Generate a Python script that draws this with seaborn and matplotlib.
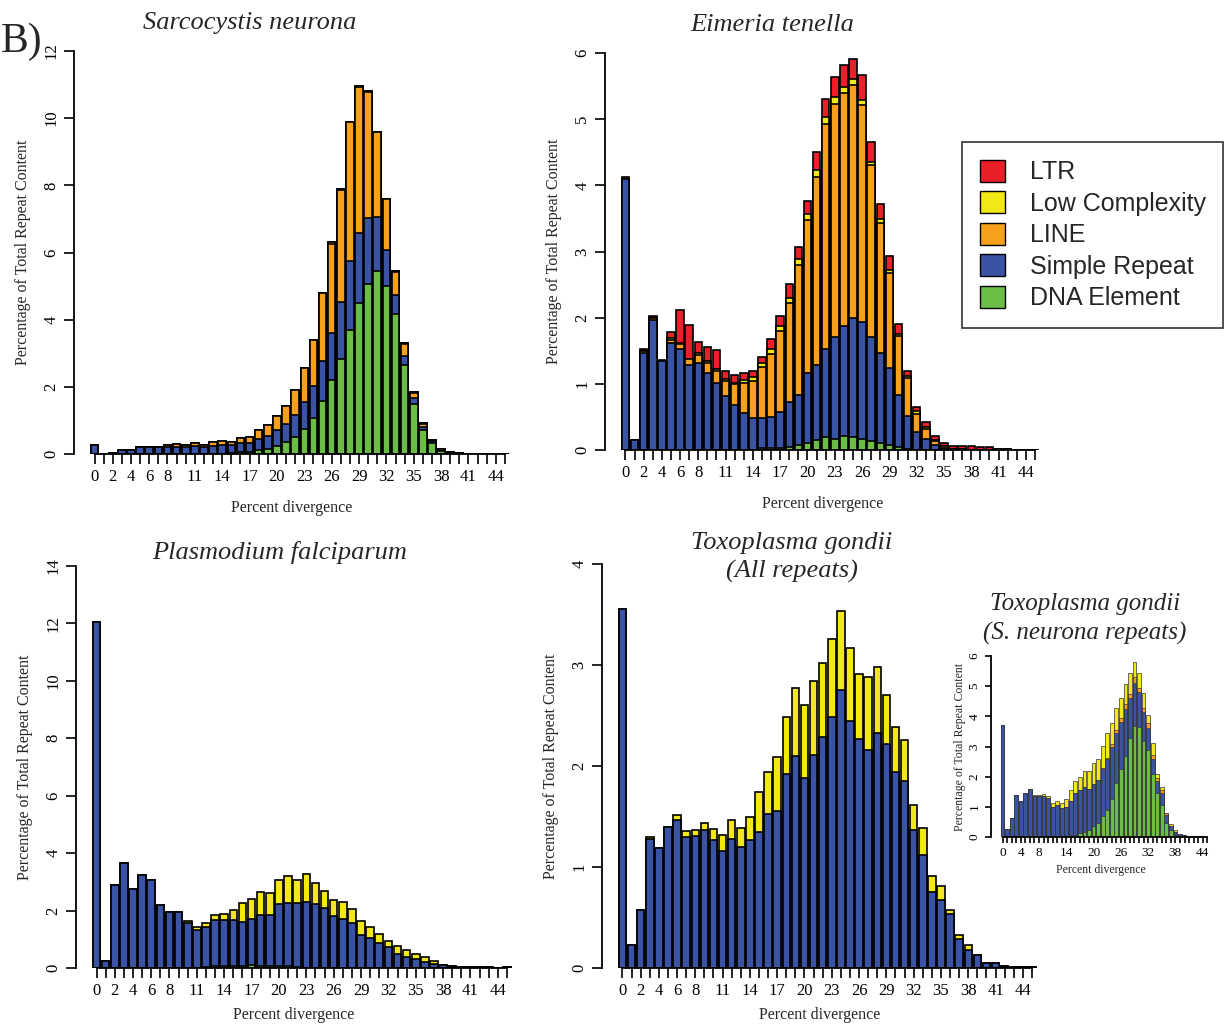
import matplotlib
matplotlib.use("Agg")
import matplotlib.pyplot as plt
from matplotlib.patches import Patch
import seaborn as sns
import numpy as np

# divergence bins 0..45 (%)
bins = list(range(46))

# colours
c_ltr = "#E8202A"
c_lowc = "#F2E817"
c_line = "#F7A01C"
c_simple = "#3A53A4"
c_dna = "#6BBD45"

# --- Sarcocystis neurona ---
sn_dna = [0, 0, 0, 0, 0, 0, 0, 0, 0, 0, 0, 0, 0, 0, 0.01, 0.02, 0.05, 0.07, 0.13, 0.16,
          0.25, 0.36, 0.51, 0.75, 1.07, 1.59, 2.19, 2.83, 3.70, 4.49, 5.05, 5.46, 5.00, 4.16, 2.64, 1.50,
          0.72, 0.33, 0.08, 0.03, 0.01, 0, 0, 0, 0, 0]
sn_simple = [0.26, 0.01, 0.03, 0.12, 0.13, 0.21, 0.22, 0.20, 0.21, 0.22, 0.22, 0.24, 0.20, 0.24, 0.26, 0.24,
             0.27, 0.27, 0.32, 0.39, 0.45, 0.53, 0.66, 0.80, 0.94, 1.19, 1.41, 1.71, 2.06, 2.08, 1.97, 1.59,
             1.06, 0.58, 0.28, 0.17, 0.08, 0.05, 0.04, 0.02, 0.01, 0.01, 0.01, 0.005, 0.005, 0.005]
sn_line = [0, 0, 0, 0, 0, 0, 0, 0, 0.06, 0.08, 0.04, 0.08, 0.07, 0.11, 0.11, 0.10, 0.16, 0.16, 0.25, 0.32,
           0.42, 0.54, 0.73, 1.00, 1.39, 2.02, 2.65, 3.31, 4.12, 4.35, 3.76, 2.53, 1.52, 0.69, 0.36, 0.16,
           0.10, 0.04, 0.02, 0, 0, 0, 0, 0, 0, 0]
sn_lowc = [0, 0, 0, 0, 0, 0, 0, 0, 0, 0, 0, 0, 0, 0, 0, 0, 0, 0, 0, 0, 0, 0, 0, 0, 0, 0, 0.05, 0.05,
           0.02, 0.03, 0.02, 0.02, 0.02, 0.02, 0.02, 0.02, 0.02, 0, 0, 0, 0, 0, 0, 0, 0, 0]
sn_ltr = [0] * 46

# --- Eimeria tenella ---
et_dna = [0, 0, 0, 0, 0, 0, 0, 0, 0, 0, 0, 0, 0, 0, 0, 0.03, 0.03, 0.03, 0.05, 0.07, 0.11, 0.15, 0.19,
          0.17, 0.21, 0.19, 0.16, 0.13, 0.10, 0.07, 0.04, 0.02, 0, 0, 0, 0, 0, 0, 0, 0, 0, 0, 0, 0, 0, 0]
et_simple = [4.10, 0.15, 1.47, 1.96, 1.35, 1.62, 1.53, 1.29, 1.32, 1.17, 1.02, 0.81, 0.68, 0.56, 0.48,
             0.45, 0.47, 0.54, 0.67, 0.76, 1.06, 1.13, 1.33, 1.54, 1.66, 1.80, 1.78, 1.58, 1.36, 1.17,
             0.79, 0.50, 0.27, 0.17, 0.08, 0.03, 0.02, 0.01, 0, 0, 0, 0.01, 0.01, 0.005, 0.005, 0.005]
et_line = [0, 0, 0.02, 0.03, 0, 0.05, 0.07, 0.08, 0.12, 0.15, 0.18, 0.24, 0.32, 0.46, 0.57, 0.77, 0.95,
           1.23, 1.50, 1.97, 2.31, 2.85, 3.41, 3.52, 3.52, 3.53, 3.27, 2.59, 1.97, 1.43, 0.89, 0.57, 0.28,
           0.15, 0.05, 0.03, 0, 0, 0, 0, 0, 0, 0, 0, 0, 0]
et_lowc = [0, 0, 0, 0.01, 0, 0.02, 0.02, 0, 0.02, 0.02, 0.03, 0.03, 0.02, 0.04, 0.05, 0.07, 0.08, 0.08,
           0.08, 0.08, 0.09, 0.10, 0.10, 0.10, 0.09, 0.09, 0.08, 0.06, 0.06, 0.05, 0.04, 0.03, 0.04, 0.03,
           0.02, 0, 0, 0, 0, 0, 0, 0, 0, 0, 0, 0]
et_ltr = [0.02, 0, 0.04, 0.03, 0.01, 0.10, 0.49, 0.52, 0.17, 0.22, 0.28, 0.11, 0.12, 0.10, 0.10, 0.09,
          0.15, 0.15, 0.21, 0.19, 0.19, 0.28, 0.27, 0.30, 0.34, 0.30, 0.37, 0.30, 0.23, 0.21, 0.14, 0.08,
          0.06, 0.08, 0.06, 0.05, 0.04, 0.05, 0.06, 0.05, 0.04, 0.01, 0, 0, 0, 0]

# --- Plasmodium falciparum ---
pf_dna = [0, 0, 0, 0, 0, 0, 0, 0, 0, 0, 0, 0, 0.05, 0.06, 0.06, 0.06, 0.07, 0.10, 0.07, 0.07, 0.06, 0.06,
          0.04, 0, 0, 0, 0, 0, 0, 0, 0, 0, 0, 0, 0, 0, 0, 0, 0, 0, 0, 0, 0, 0, 0, 0]
pf_simple = [12.05, 0.25, 2.88, 3.65, 2.75, 3.25, 3.07, 2.20, 1.95, 1.95, 1.55, 1.33, 1.37, 1.61, 1.61,
             1.61, 1.53, 1.62, 1.76, 1.77, 2.16, 2.21, 2.23, 2.30, 2.23, 2.08, 1.80, 1.70, 1.57, 1.15,
             1.05, 0.87, 0.73, 0.50, 0.40, 0.30, 0.20, 0.14, 0.09, 0.07, 0.05, 0.04, 0.02, 0.02, 0.01, 0.02]
pf_lowc = [0, 0, 0, 0, 0, 0, 0, 0, 0, 0, 0.07, 0.09, 0.13, 0.17, 0.20, 0.36, 0.67, 0.68, 0.80, 0.76, 0.83,
           0.93, 0.81, 0.97, 0.72, 0.60, 0.58, 0.60, 0.48, 0.48, 0.38, 0.30, 0.22, 0.27, 0.23, 0.20, 0.17,
           0.10, 0.01, 0, 0, 0, 0, 0, 0, 0]

# --- Toxoplasma gondii (all repeats) ---
tg_simple = [3.55, 0.23, 0.57, 1.28, 1.19, 1.40, 1.47, 1.30, 1.31, 1.37, 1.27, 1.16, 1.28, 1.20, 1.27,
             1.35, 1.52, 1.55, 1.92, 2.10, 1.88, 2.11, 2.29, 2.49, 2.75, 2.45, 2.27, 2.16, 2.33, 2.22,
             1.94, 1.85, 1.37, 1.12, 0.75, 0.67, 0.53, 0.29, 0.18, 0.13, 0.05, 0.05, 0.015, 0.01, 0.005, 0.005]
tg_lowc = [0, 0, 0, 0.02, 0, 0, 0.04, 0.06, 0.06, 0.07, 0.11, 0.16, 0.19, 0.19, 0.23, 0.39, 0.42, 0.54,
           0.57, 0.67, 0.72, 0.73, 0.73, 0.77, 0.78, 0.72, 0.64, 0.72, 0.65, 0.48, 0.45, 0.41, 0.24, 0.27,
           0.16, 0.14, 0.04, 0.04, 0.05, 0, 0, 0, 0, 0, 0, 0]

# --- Toxoplasma gondii (S. neurona repeats), inset ---
ts_dna = [0, 0, 0, 0, 0, 0, 0, 0, 0, 0, 0, 0, 0, 0.02, 0.03, 0.05, 0.08, 0.12, 0.15, 0.22, 0.35, 0.45,
          0.70, 0.90, 1.25, 1.80, 2.25, 2.70, 3.28, 3.67, 3.65, 3.17, 2.90, 2.10, 1.45, 1.05, 0.45, 0.22,
          0.08, 0.04, 0.02, 0.01, 0, 0, 0, 0]
ts_simple = [3.70, 0.27, 0.62, 1.39, 1.20, 1.47, 1.58, 1.35, 1.35, 1.35, 1.28, 1.00, 1.05, 0.93, 0.97,
             1.15, 1.39, 1.43, 1.50, 1.38, 1.40, 1.45, 1.55, 1.70, 1.75, 1.65, 1.55, 1.55, 1.32, 1.43,
             1.15, 0.98, 0.70, 0.50, 0.40, 0.40, 0.27, 0.13, 0.10, 0.06, 0.04, 0.03, 0.02, 0.02, 0.02, 0.01]
ts_line = [0, 0, 0, 0, 0, 0, 0, 0, 0, 0, 0, 0, 0, 0, 0, 0, 0, 0, 0, 0, 0, 0, 0.03, 0.03, 0.07, 0.10,
           0.15, 0.15, 0.15, 0.20, 0.15, 0.13, 0.18, 0.13, 0.12, 0.10, 0.06, 0, 0, 0, 0, 0, 0, 0, 0, 0]
ts_lowc = [0, 0, 0, 0, 0, 0, 0, 0.05, 0.05, 0.06, 0.07, 0.14, 0.15, 0.18, 0.25, 0.35, 0.37, 0.45, 0.55,
           0.60, 0.70, 0.68, 0.75, 0.82, 0.71, 0.73, 0.65, 0.68, 0.67, 0.50, 0.50, 0.50, 0.27, 0.39, 0.13,
           0.12, 0.02, 0.07, 0.04, 0, 0, 0, 0, 0, 0, 0]

main_ticks = [0, 2, 4, 6, 8, 11, 14, 17, 20, 23, 26, 29, 32, 35, 38, 41, 44]
inset_ticks = [0, 4, 8, 14, 20, 26, 32, 38, 44]

sns.set_theme(style="white")
plt.rcParams["font.family"] = ["Liberation Serif", "DejaVu Serif"]


def stacked(ax, layers, ymax, yticks, shown, fs=12, lfs=11.5, lw=1.2, edge="black", tick_len=7,
            xpad=11, ypad=9):
    """layers: list of (values, colour), bottom first. Overlay cumulative totals top-down."""
    cum = np.cumsum([np.asarray(v, float) for v, _ in layers], axis=0)
    for k in range(len(layers) - 1, -1, -1):
        sns.barplot(x=bins, y=cum[k], color=layers[k][1], saturation=1, width=0.83,
                    edgecolor=edge, linewidth=lw, errorbar=None, ax=ax)
    ax.set_xlim(-2.25, 45.55)
    ax.set_ylim(0, ymax)
    ax.set_xticks(bins)
    ax.set_xticklabels([str(b) if b in shown else "" for b in bins], fontsize=fs)
    ax.set_yticks(yticks)
    ax.set_yticklabels([str(t) for t in yticks], fontsize=fs, rotation=90, va="center")
    for s in ["top", "right"]:
        ax.spines[s].set_visible(False)
    for s in ["left", "bottom"]:
        ax.spines[s].set_color("black")
        ax.spines[s].set_linewidth(1.3)
    ax.spines["left"].set_bounds(0, ymax)
    ax.spines["bottom"].set_bounds(0, 45)
    ax.tick_params(axis="both", direction="out", length=tick_len, width=1.2, colors="black",
                   bottom=True, left=True)
    ax.set_xlabel("Percent divergence", fontsize=lfs, labelpad=xpad)
    ax.set_ylabel("Percentage of Total Repeat Content", fontsize=lfs, labelpad=ypad)


W, H = 1225, 1030
fig = plt.figure(figsize=(W / 100, H / 100), dpi=100)


def px_axes(left, right, bottom, top):
    return fig.add_axes([left / W, 1 - bottom / H, (right - left) / W, (bottom - top) / H])


ax1 = px_axes(74, 510, 454, 51)
stacked(ax1, [(sn_dna, c_dna), (sn_simple, c_simple), (sn_line, c_line), (sn_lowc, c_lowc), (sn_ltr, c_ltr)],
        12, [0, 2, 4, 6, 8, 10, 12], main_ticks)
ax1.set_title("Sarcocystis neurona", fontsize=19, style="italic", pad=16, x=0.404)

ax2 = px_axes(605, 1040, 450, 53)
stacked(ax2, [(et_dna, c_dna), (et_simple, c_simple), (et_line, c_line), (et_lowc, c_lowc), (et_ltr, c_ltr)],
        6, [0, 1, 2, 3, 4, 5, 6], main_ticks)
ax2.set_title("Eimeria tenella", fontsize=19, style="italic", pad=16, x=0.384)

ax3 = px_axes(76, 512, 968, 566)
stacked(ax3, [(pf_dna, c_dna), (pf_simple, c_simple), (pf_lowc, c_lowc)],
        14, [0, 2, 4, 6, 8, 10, 12, 14], main_ticks, xpad=6)
ax3.set_title("Plasmodium falciparum", fontsize=19, style="italic", pad=5, x=0.466)

ax4 = px_axes(602, 1037, 968, 564)
stacked(ax4, [(tg_simple, c_simple), (tg_lowc, c_lowc)], 4, [0, 1, 2, 3, 4], main_ticks, xpad=6)
ax4.set_title("Toxoplasma gondii\n(All repeats)", fontsize=19, style="italic", pad=-10,
              linespacing=1.35, x=0.437)

ax5 = px_axes(991, 1210, 837, 656)
stacked(ax5, [(ts_dna, c_dna), (ts_simple, c_simple), (ts_line, c_line), (ts_lowc, c_lowc)],
        6, [0, 1, 2, 3, 4, 5, 6], inset_ticks, fs=9.5, lfs=8.5, lw=0.5, edge="#333333", tick_len=4,
        xpad=3, ypad=2)
ax5.set_xlim(-2.55, 45.6)
ax5.set_title("Toxoplasma gondii\n(S. neurona repeats)", fontsize=18, style="italic", pad=12,
              linespacing=1.35, x=0.43)

fig.text(1 / W, 1 - 52 / H, "B)", fontsize=30, ha="left", va="baseline")

handles = [Patch(facecolor=c, edgecolor="black", linewidth=1.0, label=l) for c, l in
           [(c_ltr, "LTR"), (c_lowc, "Low Complexity"), (c_line, "LINE"),
            (c_simple, "Simple Repeat"), (c_dna, "DNA Element")]]
leg = fig.legend(handles=handles, loc="upper left", bbox_to_anchor=(962 / W, 1 - 142 / H),
                 prop={"family": "Liberation Sans", "size": 18}, frameon=True, fancybox=False,
                 edgecolor="black", handlelength=1.0, handleheight=1.0, borderpad=0.7,
                 labelspacing=0.27, handletextpad=1.0, borderaxespad=0)
leg.get_frame().set_linewidth(1.2)

fig.savefig("out.png", dpi=100, facecolor="white")
